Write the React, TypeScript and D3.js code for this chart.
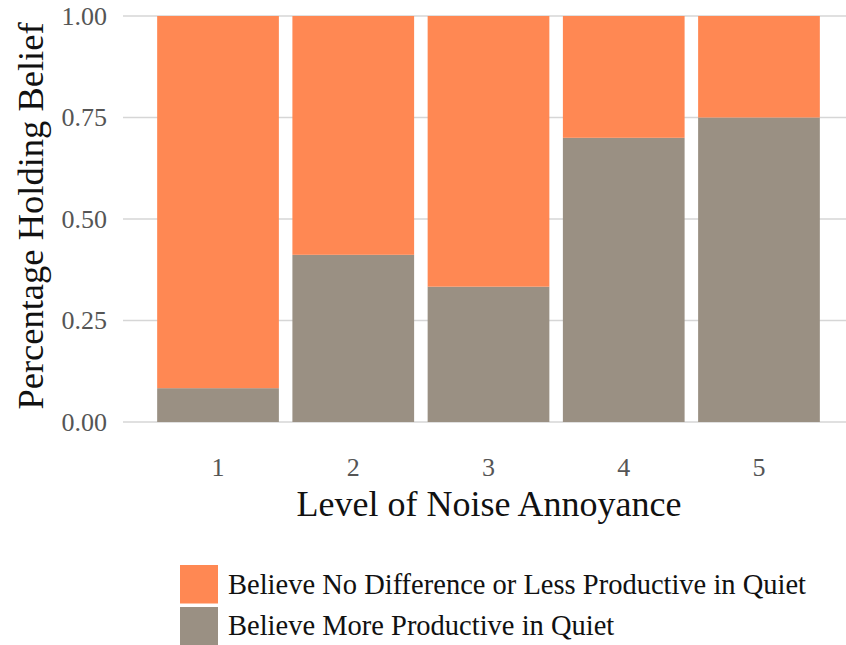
import React from "react";
import * as d3 from "d3";

const levels = ["1", "2", "3", "4", "5"];
const moreProductive = [0.0833, 0.4118, 0.3333, 0.7, 0.75];
const seriesNames = ["Believe No Difference or Less Productive in Quiet", "Believe More Productive in Quiet"];
const seriesColors = ["#FF8853", "#9A9083"];
const yTicks = [0, 0.25, 0.5, 0.75, 1];

const W = 846, H = 645;
const FONT = "'Liberation Serif', serif";

export default function App() {
  const x = d3.scaleBand<string>().domain(levels).range([150.4, 826.6]).paddingInner(0.1).paddingOuter(0.05);
  const y = d3.scaleLinear().domain([0, 1]).range([422, 16]);
  const stackData = levels.map((l, i) => ({ level: l, more: moreProductive[i], less: 1 - moreProductive[i] }));
  const stack = d3.stack<any>().keys(["more", "less"])(stackData);
  const colorFor: Record<string, string> = { more: seriesColors[1], less: seriesColors[0] };
  return (
    <svg width={W} height={H} style={{ position: "absolute", left: 0, top: 0, background: "#fff" }} fontFamily={FONT}>
      {yTicks.map((t) => (
        <line key={t} x1={123} x2={846} y1={y(t)} y2={y(t)} stroke="#d6d6d6" strokeWidth={1.6} />
      ))}
      {stack.map((s) => (
        <g key={s.key} fill={colorFor[s.key]}>
          {s.map((d, i) => (
            <rect key={i} x={x(levels[i])} width={x.bandwidth()} y={y(d[1])} height={y(d[0]) - y(d[1])} />
          ))}
        </g>
      ))}
      {yTicks.map((t) => (
        <text key={t} x={107} y={y(t)} dy="0.33em" textAnchor="end" fontSize={26} fill="#555">
          {d3.format(".2f")(t)}
        </text>
      ))}
      {levels.map((l) => (
        <text key={l} x={(x(l) as number) + x.bandwidth() / 2} y={476} textAnchor="middle" fontSize={26} fill="#555">
          {l}
        </text>
      ))}
      <text x={489} y={516} textAnchor="middle" fontSize={36} fill="#111">Level of Noise Annoyance</text>
      <text transform="translate(43,216) rotate(-90)" textAnchor="middle" fontSize={36.5} fill="#111">Percentage Holding Belief</text>
      {seriesNames.map((n, i) => (
        <g key={n}>
          <rect x={180} y={565 + i * 42} width={38} height={38.5} fill={seriesColors[i]} />
          <text x={228} y={594 + i * 41} fontSize={28.5} fill="#111">{n}</text>
        </g>
      ))}
    </svg>
  );
}
